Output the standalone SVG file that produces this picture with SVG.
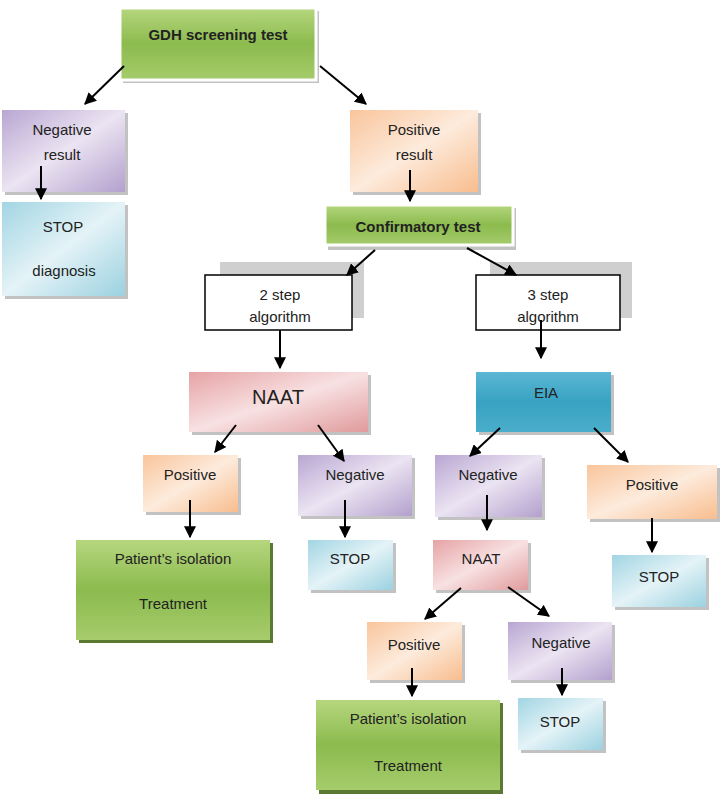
<svg xmlns="http://www.w3.org/2000/svg" width="720" height="794" viewBox="0 0 720 794">
<defs>
<linearGradient id="gGreen" x1="0" y1="0" x2="0" y2="1"><stop offset="0" stop-color="#b5d67e"/><stop offset="0.5" stop-color="#8cbb4e"/><stop offset="1" stop-color="#a6cc6c"/></linearGradient>
<linearGradient id="gPurple" x1="0" y1="0" x2="1" y2="1"><stop offset="0" stop-color="#b9a6d2"/><stop offset="0.5" stop-color="#ebe4f2"/><stop offset="1" stop-color="#b3a0cd"/></linearGradient>
<linearGradient id="gOrange" x1="0" y1="0" x2="1" y2="1"><stop offset="0" stop-color="#f9c59c"/><stop offset="0.5" stop-color="#fdebdc"/><stop offset="1" stop-color="#f8bd8e"/></linearGradient>
<linearGradient id="gCyan" x1="0" y1="0" x2="1" y2="1"><stop offset="0" stop-color="#a2d5e3"/><stop offset="0.5" stop-color="#e4f3f7"/><stop offset="1" stop-color="#9bd1e0"/></linearGradient>
<linearGradient id="gRed" x1="0" y1="0" x2="1" y2="1"><stop offset="0" stop-color="#e6a3a5"/><stop offset="0.5" stop-color="#f8e1e2"/><stop offset="1" stop-color="#e09a9c"/></linearGradient>
<linearGradient id="gBlue" x1="0" y1="0" x2="0" y2="1"><stop offset="0" stop-color="#5bb7d3"/><stop offset="0.5" stop-color="#38a2c3"/><stop offset="1" stop-color="#4aaecb"/></linearGradient>
<marker id="ah" viewBox="0 0 10 10" refX="9" refY="5" markerWidth="6" markerHeight="6" orient="auto"><path d="M0,0 L10,5 L0,10 z" fill="#000"/></marker>
</defs>
<style>
text{font-family:"Liberation Sans",Arial,sans-serif;font-size:15px;fill:#222;text-anchor:middle}
.b{font-weight:bold}
.sh{fill:#9a9a9a;opacity:0.6}
.edge{stroke:#000;stroke-width:2;fill:none;marker-end:url(#ah)}
</style>
<g id="gdh"><rect x="123" y="11" width="196" height="72" class="sh"/><rect x="120" y="8" width="196" height="72" fill="url(#gGreen)" stroke="#fff" stroke-width="3"/><text x="218" y="40" class="b">GDH screening test</text></g>
<g id="negres"><rect x="5" y="113" width="123" height="82" class="sh"/><rect x="2" y="110" width="123" height="82" fill="url(#gPurple)"/><text x="62" y="135">Negative</text><text x="62" y="160">result</text></g>
<g id="posres"><rect x="353" y="113" width="128" height="82" class="sh"/><rect x="350" y="110" width="128" height="82" fill="url(#gOrange)"/><text x="414" y="135">Positive</text><text x="414" y="160">result</text></g>
<g id="stopdiag"><rect x="5" y="205" width="123" height="94" class="sh"/><rect x="2" y="202" width="123" height="94" fill="url(#gCyan)"/><text x="63" y="232">STOP</text><text x="64" y="276">diagnosis</text></g>
<g id="confirm"><rect x="328" y="208" width="188" height="42" class="sh"/><rect x="325" y="205" width="188" height="40" fill="url(#gGreen)" stroke="#fff" stroke-width="3"/><text x="418" y="232" class="b">Confirmatory test</text></g>
<g id="step2"><rect x="220" y="262" width="144" height="56" fill="#cfcfcf"/><rect x="205" y="275" width="147" height="55" fill="#fff" stroke="#000" stroke-width="1.5"/><text x="280" y="300">2 step</text><text x="280" y="322">algorithm</text></g>
<g id="step3"><rect x="490" y="262" width="142" height="56" fill="#cfcfcf"/><rect x="476" y="275" width="144" height="55" fill="#fff" stroke="#000" stroke-width="1.5"/><text x="548" y="300">3 step</text><text x="548" y="322">algorithm</text></g>
<g id="naat1"><rect x="192" y="375" width="179" height="60" class="sh"/><rect x="189" y="372" width="179" height="60" fill="url(#gRed)"/><text x="278" y="404" style="font-size:20px">NAAT</text></g>
<g id="eia"><rect x="479" y="375" width="135" height="60" class="sh"/><rect x="476" y="372" width="135" height="60" fill="url(#gBlue)"/><text x="546" y="398">EIA</text></g>
<g id="pos1"><rect x="146" y="458" width="95" height="57" class="sh"/><rect x="143" y="455" width="95" height="57" fill="url(#gOrange)"/><text x="190" y="480">Positive</text></g>
<g id="neg1"><rect x="301" y="458" width="114" height="61" class="sh"/><rect x="298" y="455" width="114" height="61" fill="url(#gPurple)"/><text x="355" y="480">Negative</text></g>
<g id="neg2"><rect x="438" y="458" width="107" height="62" class="sh"/><rect x="435" y="455" width="107" height="62" fill="url(#gPurple)"/><text x="488" y="480">Negative</text></g>
<g id="pos2"><rect x="590" y="468" width="130" height="54" class="sh"/><rect x="587" y="465" width="130" height="54" fill="url(#gOrange)"/><text x="652" y="490">Positive</text></g>
<g id="patient1"><rect x="79" y="543" width="194" height="100" fill="#5a7a33"/><rect x="76" y="540" width="194" height="100" fill="url(#gGreen)"/><text x="173" y="564">Patient’s isolation</text><text x="173" y="609">Treatment</text></g>
<g id="stop1"><rect x="311" y="543" width="85" height="50" class="sh"/><rect x="308" y="540" width="85" height="50" fill="url(#gCyan)"/><text x="350" y="564">STOP</text></g>
<g id="naat2"><rect x="436" y="543" width="95" height="50" class="sh"/><rect x="433" y="540" width="95" height="50" fill="url(#gRed)"/><text x="481" y="564">NAAT</text></g>
<g id="stop2"><rect x="615" y="558" width="94" height="52" class="sh"/><rect x="612" y="555" width="94" height="52" fill="url(#gCyan)"/><text x="659" y="582">STOP</text></g>
<g id="pos3"><rect x="370" y="625" width="95" height="58" class="sh"/><rect x="367" y="622" width="95" height="58" fill="url(#gOrange)"/><text x="414" y="650">Positive</text></g>
<g id="neg3"><rect x="511" y="625" width="104" height="58" class="sh"/><rect x="508" y="622" width="104" height="58" fill="url(#gPurple)"/><text x="561" y="648">Negative</text></g>
<g id="patient2"><rect x="319" y="703" width="184" height="91" fill="#5a7a33"/><rect x="316" y="700" width="184" height="90" fill="url(#gGreen)"/><text x="408" y="724">Patient’s isolation</text><text x="408" y="771">Treatment</text></g>
<g id="stop3"><rect x="521" y="701" width="85" height="52" class="sh"/><rect x="518" y="698" width="85" height="52" fill="url(#gCyan)"/><text x="560" y="727">STOP</text></g>
<g id="connectors">
<line x1="124" y1="66" x2="85" y2="104" class="edge"/>
<line x1="320" y1="66" x2="366" y2="104" class="edge"/>
<line x1="41" y1="166" x2="41" y2="199" class="edge"/>
<line x1="410" y1="170" x2="410" y2="201" class="edge"/>
<line x1="375" y1="250" x2="347" y2="275" class="edge"/>
<line x1="467" y1="248" x2="516" y2="275" class="edge"/>
<line x1="280" y1="330" x2="280" y2="368" class="edge"/>
<line x1="541" y1="320" x2="541" y2="358" class="edge"/>
<line x1="236" y1="425" x2="215" y2="452" class="edge"/>
<line x1="318" y1="425" x2="344" y2="461" class="edge"/>
<line x1="500" y1="428" x2="470" y2="456" class="edge"/>
<line x1="594" y1="428" x2="628" y2="462" class="edge"/>
<line x1="190" y1="500" x2="190" y2="537" class="edge"/>
<line x1="345" y1="500" x2="345" y2="537" class="edge"/>
<line x1="487" y1="495" x2="487" y2="530" class="edge"/>
<line x1="652" y1="518" x2="652" y2="552" class="edge"/>
<line x1="461" y1="588" x2="425" y2="619" class="edge"/>
<line x1="508" y1="587" x2="549" y2="616" class="edge"/>
<line x1="412" y1="668" x2="412" y2="696" class="edge"/>
<line x1="562" y1="668" x2="562" y2="695" class="edge"/>
</g>
</svg>
